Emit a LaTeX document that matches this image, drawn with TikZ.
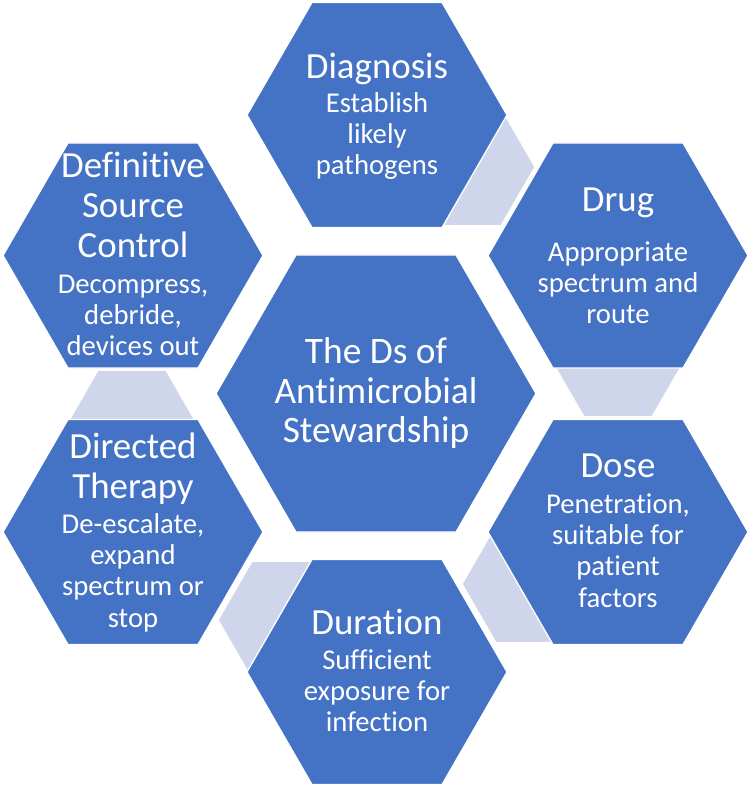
\documentclass[tikz,border=0pt]{standalone}
\usepackage{fontspec}
\setmainfont{Carlito}[Ligatures=NoCommon]
\usetikzlibrary{shapes.geometric}
\definecolor{hexblue}{HTML}{4472C4}
\definecolor{hexlight}{HTML}{CFD5EA}
\tikzset{
  bighex/.style={regular polygon, regular polygon sides=6, minimum size=260bp, inner sep=0pt, outer sep=0pt, fill=hexblue, draw=white, line width=1.3bp},
  centerhex/.style={bighex, minimum size=320bp},
  linkhex/.style={regular polygon, regular polygon sides=6, minimum size=136bp, inner sep=0pt, outer sep=0pt, fill=hexlight, draw=white, line width=1.3bp},
  ttl/.style={text=white, align=center, inner sep=0pt, anchor=north, font=\fontsize{37}{40.5}\selectfont},
  ctrtxt/.style={ttl, font=\fontsize{37.5}{40}\selectfont},
  bdy/.style={text=white, align=center, inner sep=0pt, anchor=north, font=\fontsize{28.8}{31.5}\selectfont}
}
\newcommand{\tstrut}{\rule{0pt}{30bp}}
\newcommand{\bstrut}{\rule{0pt}{24bp}}
\begin{document}
\begin{tikzpicture}[x=1bp,y=-1bp]
\useasboundingbox (0,0) rectangle (752,788);
% light link hexagons (partly hidden)
\node[linkhex] (k1) at (467,167) {};
\node[linkhex] (k2) at (618,358) {};
\node[linkhex] (k3) at (530,584) {};
\node[linkhex] (k4) at (286,620) {};
\node[linkhex] (k5) at (132,429) {};
% main hexagons
\node[centerhex] (ctr) at (376,393.5) {};
\node[bighex] (diag) at (377,115) {};
\node[bighex] (drug) at (618,255.5) {};
\node[bighex] (dose) at (618,532) {};
\node[bighex] (dur) at (377,672) {};
\node[bighex] (dir) at (133,532) {};
\node[bighex] (def) at (133,255.5) {};
% texts
\node[ctrtxt] (tctr) at (376,333) {\tstrut The Ds of\\Antimicrobial\\Stewardship};
\node[ttl] (tdiag) at (377,48) {\tstrut Diagnosis};
\node[bdy] (bdiag) at (377,88) {\bstrut Establish\\likely\\pathogens};
\node[ttl] (tdrug) at (618,181) {\tstrut Drug};
\node[bdy] (bdrug) at (618,237) {\bstrut Appropriate\\spectrum and\\route};
\node[ttl] (tdose) at (618,447) {\tstrut Dose};
\node[bdy] (bdose) at (618,489) {\bstrut Penetration,\\suitable for\\patient\\factors};
\node[ttl] (tdur) at (377,604) {\tstrut Duration};
\node[bdy] (bdur) at (377,645) {\bstrut Sufficient\\exposure for\\infection};
\node[ttl] (tdir) at (133,428) {\tstrut Directed\\Therapy};
\node[bdy] (bdir) at (133,509) {\bstrut De-escalate,\\expand\\spectrum or\\stop};
\node[ttl] (tdef) at (133,147) {\tstrut Definitive\\Source\\Control};
\node[bdy] (bdef) at (133,269) {\bstrut Decompress,\\debride,\\devices out};
\end{tikzpicture}
\end{document}
